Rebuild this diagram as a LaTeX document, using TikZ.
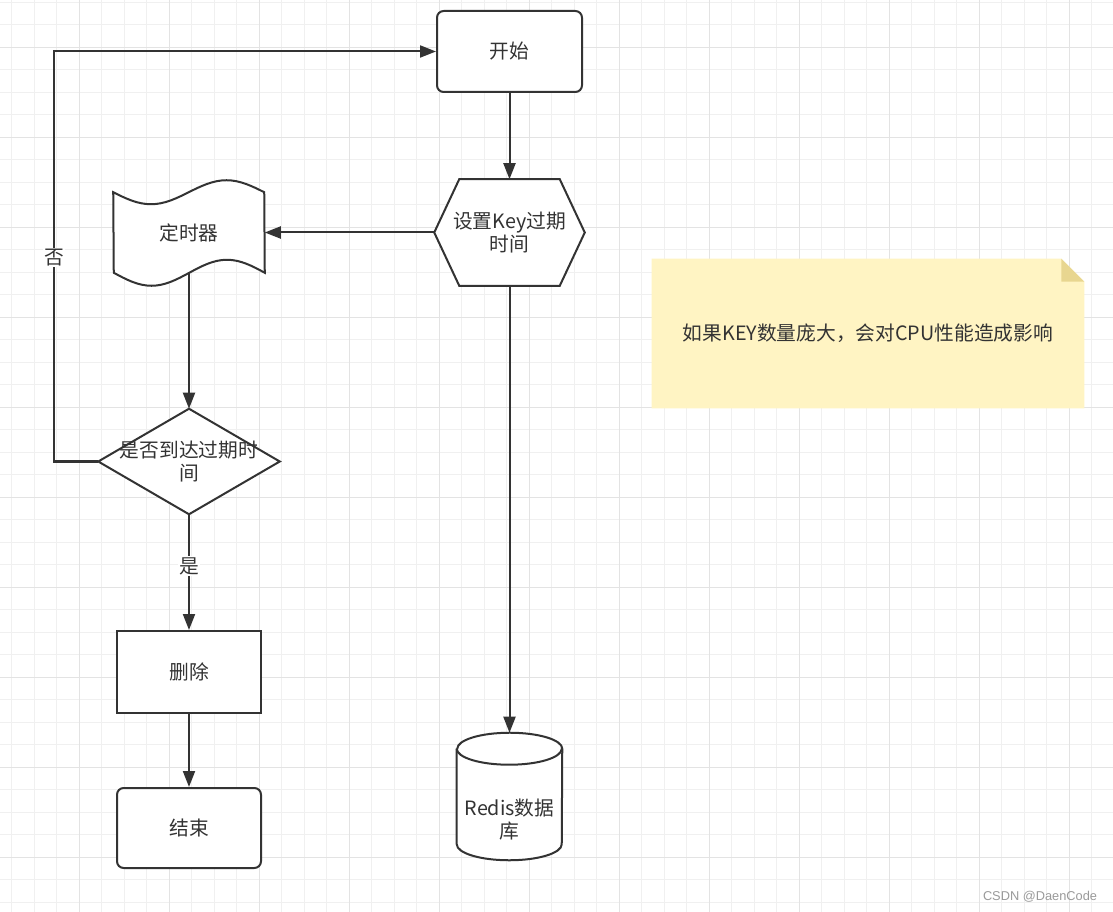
\documentclass[tikz,border=0pt]{standalone}
\usepackage{fontspec}
\setmainfont{Noto Sans CJK SC}
\newfontfamily\markfont{Liberation Sans}
\usepackage{xcolor}
\usepackage{tikz}
\usetikzlibrary{arrows.meta, calc, backgrounds}
\pgfdeclarelayer{paper}
\pgfsetlayers{paper,background,main}

\definecolor{ink}{HTML}{333333}
\definecolor{gridminor}{HTML}{F0F0F0}
\definecolor{gridmajor}{HTML}{E3E3E3}
\definecolor{notefill}{HTML}{FFF4C3}
\definecolor{notefold}{HTML}{E8D690}
\definecolor{markgray}{HTML}{9A9A9A}

\begin{document}
\begin{tikzpicture}[
    x=0.75pt, y=-0.75pt,
    every node/.style={font=\fontsize{14.8}{17}\selectfont, text=ink},
    box/.style={rectangle, draw=ink, line width=1.5pt, fill=white, align=center},
    terminal/.style={box, rounded corners=5pt},
    plain/.style={rectangle, inner sep=0pt, align=center},
    outline/.style={draw=ink, line width=1.5pt, fill=white},
    line/.style={draw=ink, line width=1.5pt, -{Triangle[length=12pt, width=9pt]}},
    tag/.style={fill=white, inner sep=1pt}
  ]

    \useasboundingbox (0,0) rectangle (1113,912);

    % Grid paper
    \begin{pgfonlayer}{paper}
      \fill[white] (0,0) rectangle (1113,912);
      \foreach \i in {0,...,48}
        \draw[gridminor, line width=0.75pt] (11.8+22.5*\i,0) -- (11.8+22.5*\i,912);
      \foreach \i in {0,...,40}
        \draw[gridminor, line width=0.75pt] (0,2.3+22.5*\i) -- (1113,2.3+22.5*\i);
      \foreach \i in {0,...,11}
        \draw[gridmajor, line width=1pt] (79.3+90*\i,0) -- (79.3+90*\i,912);
      \foreach \i in {0,...,9}
        \draw[gridmajor, line width=1pt] (0,47.3+90*\i) -- (1113,47.3+90*\i);
    \end{pgfonlayer}

    % Steps
    \node[terminal, minimum width=108.75pt, minimum height=60.75pt] (start) at (509.5,51.5) {开始};
    \node[plain, minimum width=112.5pt, minimum height=79.5pt] (expire) at (509.5,232.5) {设置Key过期\\时间};
    \node[plain, minimum width=113.25pt, minimum height=60pt] (timer) at (189,232.5) {定时器};
    \node[plain, minimum width=135.75pt, minimum height=78.75pt] (check) at (189,461.5) {是否到达过期时\\间};
    \node[box, minimum width=108pt, minimum height=61.5pt] (del) at (189,672) {删除};
    \node[terminal, minimum width=108pt, minimum height=60pt] (stop) at (189,828) {结束};
    \node[plain, minimum width=78.75pt, minimum height=95.25pt,
          label={[align=center, yshift=-17.5pt]center:{Redis数据\\库}}] (db) at (509.5,796.5) {};

    % Note
    \node[plain, minimum width=324pt, minimum height=111.75pt] (note) at (868,333.5) {如果KEY数量庞大，会对CPU性能造成影响};
    \node[font=\markfont\fontsize{9.6}{11}\selectfont, text=markgray] (mark) at (1040,897) {CSDN @DaenCode};

    % Outlines
    \begin{scope}[on background layer]
      \draw[outline] ([xshift=18.75pt]expire.north west) -- ([xshift=-18.75pt]expire.north east) -- (expire.east)
        -- ([xshift=-18.75pt]expire.south east) -- ([xshift=18.75pt]expire.south west) -- (expire.west) -- cycle;
      \draw[outline] (timer.north west) sin ++(37.75,12) cos ++(37.75,-12) sin ++(37.75,-12) cos ++(37.75,12)
        -- (timer.south east) sin ++(-37.75,-13) cos ++(-37.75,13) sin ++(-37.75,13) cos ++(-37.75,-13) -- cycle;
      \draw[outline] (check.north) -- (check.east) -- (check.south) -- (check.west) -- cycle;
      \draw[outline] ([yshift=-12pt]db.north west) -- ([yshift=12pt]db.south west)
        arc[start angle=180, end angle=360, x radius=39.375pt, y radius=12pt]
        -- ([yshift=-12pt]db.north east)
        arc[start angle=0, end angle=180, x radius=39.375pt, y radius=12pt];
      \draw[outline, fill=none] ([yshift=-12pt]db.north west)
        arc[start angle=180, end angle=360, x radius=39.375pt, y radius=12pt];
      \fill[notefill] (note.north west) -- ([xshift=-17.25pt]note.north east) -- ([yshift=-17.25pt]note.north east)
        -- (note.south east) -- (note.south west) -- cycle;
      \fill[notefold] ([xshift=-17.25pt]note.north east) -- ([xshift=-17.25pt, yshift=-17.25pt]note.north east)
        -- ([yshift=-17.25pt]note.north east) -- cycle;
    \end{scope}

    % Lines
    \draw[line] (start.south) -- (expire.north);
    \draw[line] (expire.west) -- (timer.east);
    \draw[line] (timer.south) -- (check.north);
    \draw[line] (check.west) -- ++(-44,0) -- ++(0,-204) node[tag] {否} |- (start.west);
    \draw[line] (check.south) -- (del.north) node[tag, pos=0.45] {是};
    \draw[line] (del.south) -- (stop.north);
    \draw[line] (expire.south) -- (db.north);

  \end{tikzpicture}
\end{document}
